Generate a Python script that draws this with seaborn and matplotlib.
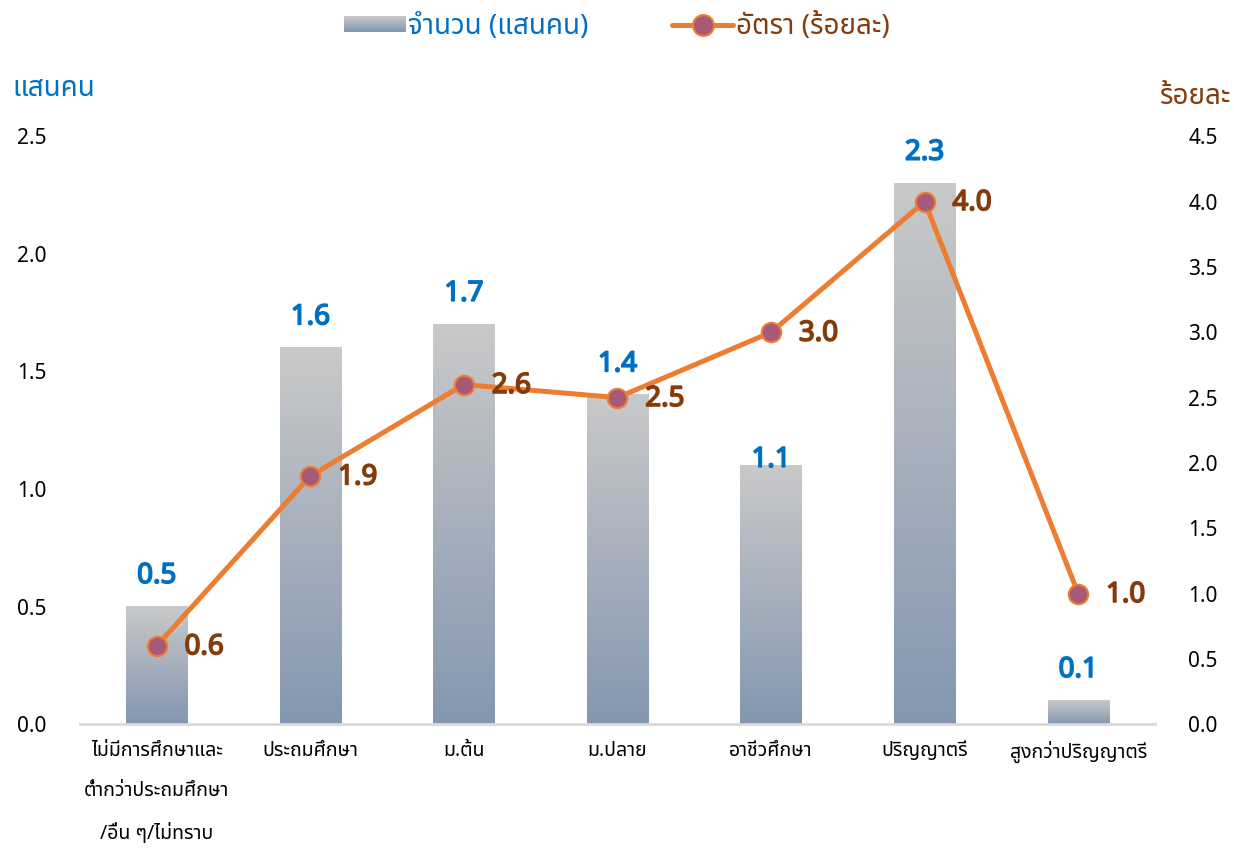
import numpy as np
import pandas as pd
import seaborn as sns
import matplotlib
matplotlib.use('Agg')
import matplotlib.pyplot as plt
import matplotlib.patheffects as pe
from matplotlib import font_manager
from matplotlib.ft2font import FT2Font
from matplotlib.colors import LinearSegmentedColormap
from matplotlib.legend_handler import HandlerBase
from matplotlib.image import BboxImage
from matplotlib.transforms import Bbox, TransformedBbox
from matplotlib.lines import Line2D
import matplotlib.patches as mpatches

categories = ["ไม่มีการศึกษาและ\nต่ำกว่าประถมศึกษา\n/อื่น ๆ/ไม่ทราบ", "ประถมศึกษา", "ม.ต้น", "ม.ปลาย",
              "อาชีวศึกษา", "ปริญญาตรี", "สูงกว่าปริญญาตรี"]
counts = [0.5, 1.6, 1.7, 1.4, 1.1, 2.3, 0.1]
rates = [0.6, 1.9, 2.6, 2.5, 3.0, 4.0, 1.0]
left_ticks = [0.0, 0.5, 1.0, 1.5, 2.0, 2.5]
right_ticks = [0.0, 0.5, 1.0, 1.5, 2.0, 2.5, 3.0, 3.5, 4.0, 4.5]
label_count = "จำนวน (แสนคน)"
label_rate = "อัตรา (ร้อยละ)"
unit_left = "แสนคน"
unit_right = "ร้อยละ"

df = pd.DataFrame({"cat": categories, "count": counts, "rate": rates})

# find a font that actually has Thai glyphs
thai_font = None
preferred = ["Noto Sans Thai", "Noto Sans Thai UI", "Noto Sans", "Sarabun", "Kanit", "Loma", "Garuda", "Waree"]
found = {}
for fe in font_manager.fontManager.ttflist:
    try:
        cmap = FT2Font(fe.fname).get_charmap()
    except Exception:
        continue
    if 0x0E01 in cmap and 0x0E33 in cmap:
        found.setdefault(fe.name, fe.fname)
for name in preferred:
    if name in found:
        thai_font = name
        break
if thai_font is None and found:
    thai_font = sorted(found)[0]

sns.set_theme(style="white")
families = ([thai_font] if thai_font else []) + ["DejaVu Sans"]
plt.rcParams['font.family'] = families

blue = "#0070C0"
brown = "#843C0C"
orange = "#ED7D31"
marker_fill = "#A65A78"
grad = LinearSegmentedColormap.from_list("g", ["#8497B0", "#C9C9C9"])

fig = plt.figure(figsize=(12.34, 8.52), dpi=100)
ax = fig.add_axes([0.0648, 0.150, 0.8712, 0.690])

sns.barplot(data=df, x="cat", y="count", ax=ax, width=0.4, color="#A8B0BE", zorder=2)

for p in ax.patches:
    x, w, h = p.get_x(), p.get_width(), p.get_height()
    img = np.linspace(0, 1, 256).reshape(-1, 1)
    ax.imshow(img, extent=[x, x + w, 0, h], origin="lower", aspect="auto", cmap=grad, zorder=2.5)
    p.set_alpha(0)

ax.set_xlim(-0.5, len(categories) - 0.5)
ax.set_ylim(0, 2.5)
ax.set_yticks(left_ticks)
ax.set_yticklabels([f"{t:.1f}" for t in left_ticks])
ax.set_xlabel("")
ax.set_ylabel("")
ax.tick_params(axis="y", labelsize=15, length=0, pad=24, colors="black")
ax.tick_params(axis="x", labelsize=14, length=0, pad=12, colors="black")
for lab in ax.get_xticklabels():
    lab.set_linespacing(2.35)
    lab.set_va("top")
for s in ["top", "left", "right"]:
    ax.spines[s].set_visible(False)
ax.spines["bottom"].set_color("#D9D9D9")
ax.spines["bottom"].set_linewidth(2)

bar_offsets = [12, 12, 12, 12, -6, 12, 12]
for i, v in enumerate(counts):
    t = ax.annotate(f"{v:.1f}", xy=(i, v), xytext=(0, bar_offsets[i]), textcoords="offset points",
                    ha="center", va="bottom", fontsize=20, color=blue, zorder=5)
    t.set_path_effects([pe.withStroke(linewidth=1.2, foreground=blue)])

ax2 = ax.twinx()
sns.pointplot(data=df, x="cat", y="rate", ax=ax2, color=orange, errorbar=None,
              markers="o", linewidth=3.6)
for ln in ax2.lines:
    ln.set_markersize(14)
    ln.set_markerfacecolor(marker_fill)
    ln.set_markeredgecolor(orange)
    ln.set_markeredgewidth(1.5)
ax2.set_xlim(-0.5, len(categories) - 0.5)
ax2.set_ylim(0, 4.5)
ax2.set_yticks(right_ticks)
ax2.set_yticklabels([f"{t:.1f}" for t in right_ticks])
ax2.set_ylabel("")
ax2.tick_params(axis="y", labelsize=15, length=0, pad=24, colors="black")
for s in ["top", "left", "right", "bottom"]:
    ax2.spines[s].set_visible(False)
ax2.grid(False)

for i, v in enumerate(rates):
    t = ax2.annotate(f"{v:.1f}", xy=(i, v), xytext=(20, -1), textcoords="offset points",
                     ha="left", va="center", fontsize=20, color=brown, zorder=5)
    t.set_path_effects([pe.withStroke(linewidth=1.2, foreground=brown)])

fig.text(0.010, 0.895, unit_left, fontsize=20, color=blue, ha="left", va="center")
fig.text(0.998, 0.886, unit_right, fontsize=20, color=brown, ha="right", va="center")


class GradientHandler(HandlerBase):
    def create_artists(self, legend, orig_handle, xdescent, ydescent, width, height, fontsize, trans):
        bb = TransformedBbox(Bbox.from_bounds(-xdescent, -ydescent + 0.1 * height, width, height * 0.8), trans)
        im = BboxImage(bb, cmap=grad, interpolation="bilinear")
        im.set_data(np.linspace(1, 0, 64).reshape(-1, 1))
        return [im]


bar_handle = mpatches.Patch(color="#A8B0BE", label=label_count)
line_handle = Line2D([], [], color=orange, linewidth=3.6, marker="o", markersize=15,
                     markerfacecolor=marker_fill, markeredgecolor=orange, markeredgewidth=1.5, label=label_rate)
leg = fig.legend(handles=[bar_handle, line_handle], loc="center", bbox_to_anchor=(0.5, 0.968),
                 ncol=2, frameon=False, fontsize=20, handlelength=2.2, handletextpad=0.1,
                 columnspacing=3.0, handler_map={mpatches.Patch: GradientHandler()})
leg.get_texts()[0].set_color(blue)
leg.get_texts()[1].set_color(brown)

fig.savefig("out.png", dpi=100, facecolor="white")
